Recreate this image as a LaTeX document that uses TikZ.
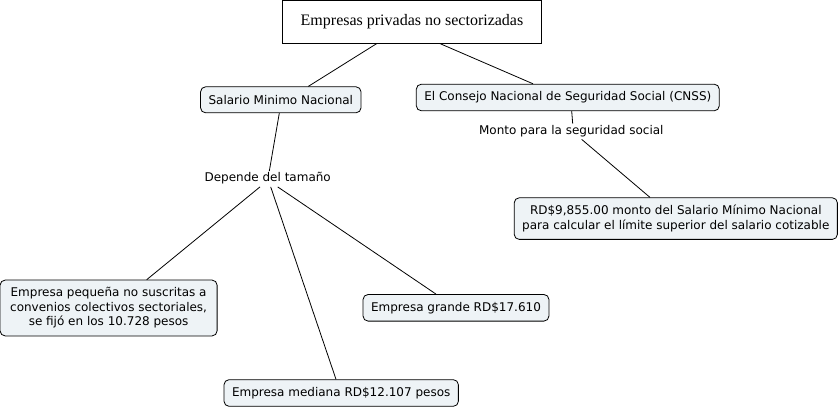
\documentclass[tikz,border=0pt]{standalone}
\usepackage{fontspec}
\setmainfont{DejaVu Sans}
\newfontfamily\headfont{Liberation Serif}
\usepackage{tikz}
\usetikzlibrary{positioning}
\usepackage{xcolor}
\definecolor{conceptfill}{HTML}{EEF3F6}

\begin{document}
\begin{tikzpicture}[x=1pt,y=-1pt,line width=0.8pt,
    every node/.style={font=\fontsize{12}{14.5}\selectfont},
    concept/.style={draw,rounded corners=5pt,fill=conceptfill,inner xsep=8pt,inner ysep=7.5pt,align=center,minimum height=26pt},
    linkword/.style={inner sep=1.5pt,text height=9pt,text depth=3pt}]
    \useasboundingbox (0,0) rectangle (839,409);
    \node[draw,fill=white,minimum width=259pt,minimum height=43pt,font=\headfont\fontsize{16}{19}\selectfont] (top) at (412,21.7) {Empresas privadas no sectorizadas};
    \node[concept] (sal) at (280.8,99.8) {Salario Minimo Nacional};
    \node[concept] (cnss) at (567.8,97.5) {El Consejo Nacional de Seguridad Social (CNSS)};
    \node[linkword] (monto) at (571.3,131.5) {Monto para la seguridad social};
    \node[concept] (rd) at (675.8,218.6) {RD\$9,855.00 monto del Salario Mínimo Nacional\\para calcular el límite superior del salario cotizable};
    \node[linkword] (dep) at (267.7,179) {Depende del tamaño};
    \node[concept,minimum width=217pt] (peq) at (108.6,308) {Empresa pequeña no suscritas a\\convenios colectivos sectoriales,\\se fijó en los 10.728 pesos};
    \node[concept] (gra) at (456,307.8) {Empresa grande RD\$17.610};
    \node[concept] (med) at (341.2,393) {Empresa mediana RD\$12.107 pesos};
    \draw ([xshift=-35.3pt]top.south) -- ([xshift=27.5pt]sal.north);
    \draw ([xshift=28pt]top.south) -- ([xshift=-34.8pt]cnss.north);
    \draw ([xshift=-1.5pt]sal.south) -- ([xshift=1.6pt]dep.north);
    \draw ([xshift=3.9pt]cnss.south) -- ([xshift=1.4pt]monto.north);
    \draw ([xshift=10.4pt]monto.south) -- ([xshift=-25.8pt]rd.north);
    \draw ([xshift=-7.7pt]dep.south) -- ([xshift=38.1pt]peq.north);
    \draw ([xshift=3pt]dep.south) -- ([xshift=-5.2pt]med.north);
    \draw ([xshift=10pt]dep.south) -- ([xshift=-20pt]gra.north);
\end{tikzpicture}
\end{document}
